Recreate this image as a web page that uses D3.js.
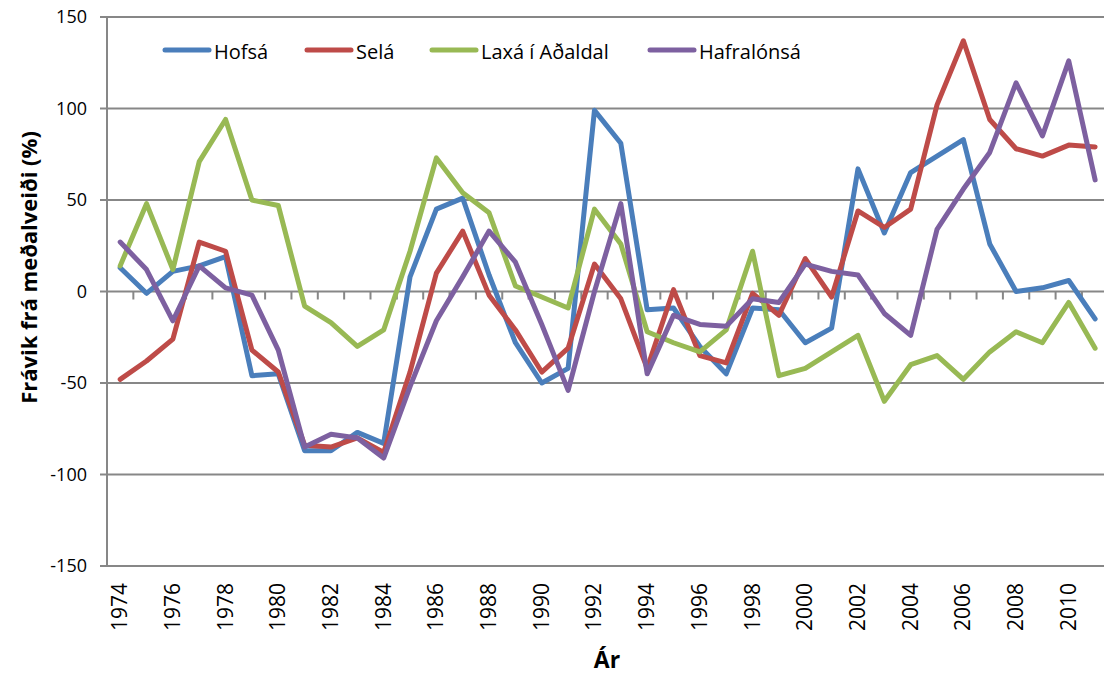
<!DOCTYPE html>
<html>
<head>
<meta charset="utf-8">
<script src="https://cdn.jsdelivr.net/npm/d3@7"></script>
<style>
  body { margin: 0; background: #fff; }
  text { font-family: "Open Sans", sans-serif; fill: #000; }
</style>
</head>
<body>
<svg id="chart"></svg>
<script>
const years = d3.range(1974, 2012);
const hofsa = [13, -1, 11, 14, 19, -46, -45, -87, -87, -77, -83, 8, 45, 51, 9, -28, -50, -42, 99, 81,
  -10, -9, -30, -45, -9, -10, -28, -20, 67, 32, 65, 74, 83, 26, 0, 2, 6, -15];
const sela = [-48, -38, -26, 27, 22, -32, -44, -84, -85, -80, -88, -44, 10, 33, -2, -21, -44, -31, 15, -4,
  -42, 1, -35, -39, -1, -13, 18, -3, 44, 35, 45, 102, 137, 94, 78, 74, 80, 79];
const laxa = [14, 48, 12, 71, 94, 50, 47, -8, -17, -30, -21, 22, 73, 54, 43, 3, -3, -9, 45, 26,
  -22, -28, -33, -21, 22, -46, -42, -33, -24, -60, -40, -35, -48, -33, -22, -28, -6, -31];
const hafralonsa = [27, 12, -16, 14, 2, -2, -32, -85, -78, -80, -91, -52, -16, 8, 33, 16, -18, -54, 0, 48,
  -45, -13, -18, -19, -4, -6, 15, 11, 9, -12, -24, 34, 56, 76, 114, 85, 126, 61];

const seriesNames = ["Hofsá", "Selá", "Laxá í Aðaldal", "Hafralónsá"];
const seriesValues = [hofsa, sela, laxa, hafralonsa];
const seriesColors = ["#4A7EBB", "#BE4B48", "#98B954", "#7D60A0"];
const yTicks = [-150, -100, -50, 0, 50, 100, 150];

const W = 1104, H = 677;
const left = 107, bandW = 26.35;
const gridColor = "#878787";

const svg = d3.select("#chart").attr("width", W).attr("height", H);

const x = d3.scaleBand()
  .domain(years)
  .range([left, left + years.length * bandW])
  .padding(0);

const y = d3.scaleLinear().domain([-150, 150]).range([566, 17]);

const cx = (yr) => x(yr) + x.bandwidth() / 2;

// gridlines
svg.append("g")
  .selectAll("line")
  .data(yTicks)
  .join("line")
  .attr("x1", left - 7)
  .attr("x2", W)
  .attr("y1", (d) => y(d))
  .attr("y2", (d) => y(d))
  .attr("stroke", gridColor)
  .attr("stroke-width", 2);

// y axis line
svg.append("line")
  .attr("x1", left).attr("x2", left)
  .attr("y1", y(150)).attr("y2", y(-150))
  .attr("stroke", gridColor)
  .attr("stroke-width", 2);

// y tick labels
svg.append("g")
  .selectAll("text")
  .data(yTicks)
  .join("text")
  .attr("x", 87)
  .attr("y", (d) => y(d) + 6)
  .attr("text-anchor", "end")
  .attr("font-size", "18px")
  .text((d) => d);

// category tick marks on the zero line
svg.append("g")
  .selectAll("line")
  .data(years.slice(1))
  .join("line")
  .attr("x1", (d) => x(d))
  .attr("x2", (d) => x(d))
  .attr("y1", y(0))
  .attr("y2", y(0) + 8)
  .attr("stroke", gridColor)
  .attr("stroke-width", 2);

// x tick labels
svg.append("g")
  .selectAll("text")
  .data(years.filter((d) => d % 2 === 0))
  .join("text")
  .attr("transform", (d) => `translate(${cx(d) + 7},583) rotate(-90)`)
  .attr("text-anchor", "end")
  .attr("font-size", "21px")
  .text((d) => d);

// lines
const line = d3.line()
  .x((d, i) => cx(years[i]))
  .y((d) => y(d));

svg.append("g")
  .selectAll("path")
  .data(seriesValues)
  .join("path")
  .attr("d", (d) => line(d))
  .attr("fill", "none")
  .attr("stroke", (d, i) => seriesColors[i])
  .attr("stroke-width", 5)
  .attr("stroke-linejoin", "round")
  .attr("stroke-linecap", "round");

// legend
const legendX = [163, 305, 430, 648];
const legend = svg.append("g")
  .selectAll("g")
  .data(seriesNames)
  .join("g")
  .attr("transform", (d, i) => `translate(${legendX[i]},50)`);

legend.append("line")
  .attr("x1", 2).attr("x2", 46)
  .attr("stroke", (d, i) => seriesColors[i])
  .attr("stroke-width", 5)
  .attr("stroke-linecap", "round");

legend.append("text")
  .attr("x", 51)
  .attr("y", 9)
  .attr("font-size", "20px")
  .text((d) => d);

// axis titles
svg.append("text")
  .attr("transform", `translate(37,${y(0) - 24}) rotate(-90)`)
  .attr("text-anchor", "middle")
  .attr("font-size", "22px")
  .attr("font-weight", "bold")
  .text("Frávik frá meðalveiði (%)");

svg.append("text")
  .attr("x", 607)
  .attr("y", 668)
  .attr("text-anchor", "middle")
  .attr("font-size", "23px")
  .attr("font-weight", "bold")
  .text("Ár");
</script>
</body>
</html>
